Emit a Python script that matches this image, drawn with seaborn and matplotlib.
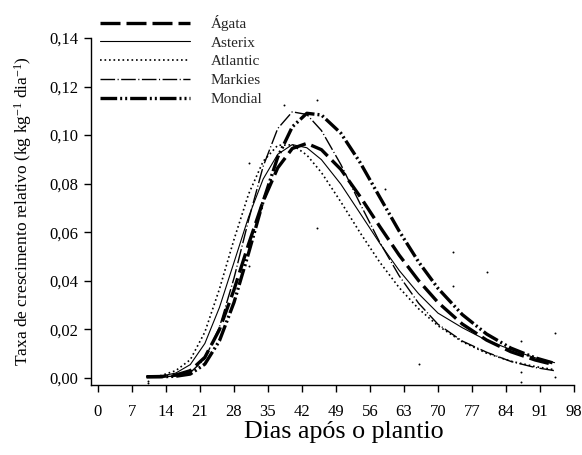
import matplotlib
matplotlib.use("Agg")
import matplotlib.pyplot as plt
import matplotlib.ticker as mticker
from matplotlib.lines import Line2D
import seaborn as sns
import pandas as pd

days = [10, 13, 16, 19, 22, 25, 28, 31, 34, 37, 40, 43, 46, 50, 54, 58, 62, 66, 70, 75, 80, 85, 90, 94]

agata = [0.0005, 0.0006, 0.0012, 0.0030, 0.0085, 0.0199, 0.0363, 0.0551, 0.0728, 0.0865, 0.0945, 0.0966,
         0.0940, 0.0859, 0.0746, 0.0624, 0.0506, 0.0401, 0.0311, 0.0222, 0.0156, 0.0108, 0.0074, 0.0054]
asterix = [0.0005, 0.0008, 0.0020, 0.0055, 0.0142, 0.0290, 0.0476, 0.0663, 0.0819, 0.0921, 0.0961, 0.0948,
           0.0899, 0.0798, 0.0677, 0.0555, 0.0443, 0.0347, 0.0267, 0.0207, 0.0155, 0.0117, 0.0083, 0.0063]
atlantic = [0.0005, 0.0010, 0.0030, 0.0075, 0.0189, 0.0366, 0.0570, 0.0757, 0.0892, 0.0958, 0.0960, 0.0918,
            0.0846, 0.0725, 0.0597, 0.0477, 0.0372, 0.0285, 0.0215, 0.0149, 0.0102, 0.0069, 0.0047, 0.0034]
markies = [0.0005, 0.0005, 0.0008, 0.0022, 0.0079, 0.0209, 0.0411, 0.0650, 0.0871, 0.1027, 0.1096, 0.1085,
           0.1019, 0.0879, 0.0716, 0.0559, 0.0421, 0.0308, 0.0221, 0.0152, 0.0106, 0.0068, 0.0043, 0.0030]
mondial = [0.0005, 0.0005, 0.0007, 0.0016, 0.0057, 0.0153, 0.0311, 0.0514, 0.0727, 0.0909, 0.1034, 0.1090,
           0.1083, 0.1008, 0.0886, 0.0745, 0.0605, 0.0478, 0.0369, 0.0261, 0.0181, 0.0123, 0.0083, 0.0060]

obs_days = [10.2, 10.2, 31, 31, 38.2, 45, 45, 59, 66, 73, 73, 80, 87, 87, 87, 94, 94]
obs_vals = [-0.0022, -0.0012, 0.0887, 0.0462, 0.1124, 0.1145, 0.0619, 0.0777, 0.0056, 0.052, 0.0377,
            0.0435, 0.0152, 0.0024, -0.0017, 0.0184, 0.0005]

names = ["Ágata", "Asterix", "Atlantic", "Markies", "Mondial"]
xticks = [0, 7, 14, 21, 28, 35, 42, 49, 56, 63, 70, 77, 84, 91, 98]
yticks = [0.00, 0.02, 0.04, 0.06, 0.08, 0.10, 0.12, 0.14]

sns.set_theme(style="ticks")
plt.rcParams["font.family"] = ["Liberation Serif", "DejaVu Serif"]
plt.rcParams["mathtext.fontset"] = "custom"
plt.rcParams["mathtext.rm"] = "Liberation Serif"
plt.rcParams["mathtext.it"] = "Liberation Serif:italic"

fig = plt.figure(figsize=(5.82, 4.55), dpi=100)
ax = fig.add_axes([91 / 582, 1 - 385 / 455, (574 - 91) / 582, (385 - 38) / 455])

styles = {
    "Ágata": dict(lw=2.4, ls=(0, (6, 1.8))),
    "Asterix": dict(lw=0.8, ls="-"),
    "Atlantic": dict(lw=1.2, ls=(0, (1, 1.7))),
    "Markies": dict(lw=1.0, ls=(0, (10.5, 1.8, 0.8, 1.8))),
    "Mondial": dict(lw=2.4, ls=(0, (5, 0.9, 0.6, 0.9, 0.6, 0.9))),
}

series = [agata, asterix, atlantic, markies, mondial]
for name, vals in zip(names, series):
    df = pd.DataFrame({"d": days, "v": vals})
    st = styles[name]
    sns.lineplot(data=df, x="d", y="v", ax=ax, color="black", linewidth=st["lw"],
                 linestyle=st["ls"], sort=False, legend=False)

sns.scatterplot(x=obs_days, y=obs_vals, ax=ax, color="black", s=2, linewidth=0, legend=False)

ax.set_xlim(-1.44, 98)
ax.set_ylim(-0.0029, 0.14)
ax.set_xticks(xticks)
ax.set_yticks(yticks)
ax.yaxis.set_major_formatter(mticker.FuncFormatter(lambda v, p: f"{v:.2f}".replace(".", ",")))
sns.despine(ax=ax)
for s in ["left", "bottom"]:
    ax.spines[s].set_color("black")
    ax.spines[s].set_linewidth(1.0)
ax.tick_params(direction="out", length=5, width=1, color="black", labelsize=12, labelcolor="black", pad=4)
ax.tick_params(axis="x", pad=9)

ax.set_xlabel("Dias após o plantio", fontsize=18.7, color="black")
ax.xaxis.set_label_coords(0.523, -0.105)
ax.set_ylabel("Taxa de crescimento relativo (kg kg$^{-1}$ dia$^{-1}$)", fontsize=12.5, color="black", labelpad=11)

handles = [Line2D([0], [0], color="black", linewidth=styles[n]["lw"], linestyle=styles[n]["ls"]) for n in names]
fig.legend(handles, names, loc="upper left", bbox_to_anchor=(100 / 582, 1 - 15 / 455), frameon=False,
           fontsize=11, handlelength=5.9, handletextpad=1.35, labelspacing=0.33, borderpad=0, borderaxespad=0)

fig.savefig("out.png", dpi=100)
